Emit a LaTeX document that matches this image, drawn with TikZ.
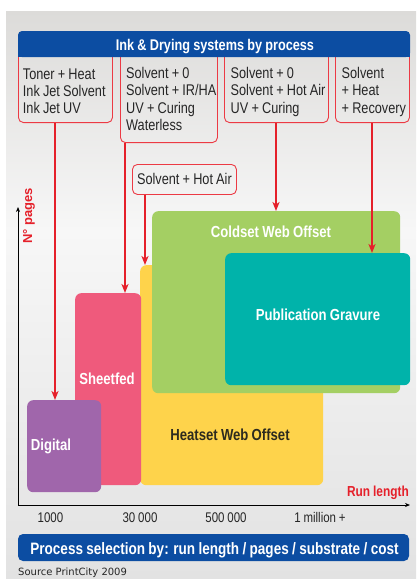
\documentclass[tikz,border=0pt]{standalone}
\usepackage{fontspec}
\setmainfont{Liberation Sans}[FakeStretch=0.82, WordSpace=0.9]
\newfontfamily\plainsans{Liberation Sans}
\newfontfamily\srcfont{DejaVu Sans}
\usetikzlibrary{arrows.meta,calc}
% keep the font's own inter-word space inside aligned nodes
\newcommand\natspace{\spaceskip=0pt\xspaceskip=0pt\relax}

\definecolor{hblue}{HTML}{0C4DA2}
\definecolor{lred}{HTML}{E5202A}
\definecolor{boxred}{HTML}{EC3A44}
\definecolor{txtgray}{HTML}{262626}
\definecolor{bgtop}{HTML}{DCDBD9}
\definecolor{bgmid}{HTML}{F7F7F7}
\definecolor{bgbot}{HTML}{E2E2E2}
\definecolor{cdigital}{HTML}{A066AB}
\definecolor{csheet}{HTML}{EF5A7C}
\definecolor{cheat}{HTML}{FED34B}
\definecolor{ccold}{HTML}{A4CF63}
\definecolor{cgrav}{HTML}{00B3AA}
\definecolor{heattext}{HTML}{2D2A1E}

\begin{document}
\begin{tikzpicture}[x=1pt,y=-1pt,
  conn/.style={draw=lred, line width=1.5pt, -{Stealth[length=9pt,width=7pt,inset=2.5pt]}},
  infobox/.style={draw=boxred, line width=0.9pt, rounded corners=5pt, inner sep=0pt},
  region/.style={rounded corners=6pt, inner sep=0pt, anchor=north west},
  reglabel/.style={font=\bfseries\fontsize{16}{18}\selectfont, text=white, anchor=base, inner sep=0pt},
  boxtext/.style={font=\fontsize{15.5}{17.4}\selectfont, text=txtgray, align=left, text width=110pt, inner sep=0pt, anchor=base west},
  tick/.style={font=\fontsize{14}{16}\selectfont, text=txtgray, anchor=base, inner sep=0pt},
  axisline/.style={draw=black, line width=0.7pt, -{Stealth[length=5pt,width=4pt]}}]

\useasboundingbox (0,0) rectangle (416,579);

% background panel
\fill[white] (0,0) rectangle (416,579);
\fill[top color=bgtop, bottom color=bgmid] (6,11) rectangle (416,230.5);
\fill[top color=bgmid, bottom color=bgbot] (6,230) rectangle (416,579);

% ink & drying boxes hanging under the header
\node[infobox, minimum width=94pt, minimum height=78pt, anchor=south west] (box1) at (18,123) {};
\node[infobox, minimum width=97pt, minimum height=98pt, anchor=south west] (box2) at (120,143) {};
\node[infobox, minimum width=104pt, minimum height=78pt, anchor=south west] (box3) at (224,123) {};
\node[infobox, minimum width=74pt, minimum height=78pt, anchor=south west] (box4) at (335,123) {};

% header bar
\fill[hblue, rounded corners=4pt] (18,31) rectangle (410,57);
\fill[hblue] (18,44) rectangle (410,57);
\node[font=\bfseries\fontsize{15.5}{18}\selectfont, text=white, anchor=base, inner sep=0pt] (title) at (215,50.7) {Ink \& Drying systems by process};

\node[boxtext] (t1) at (22.7,79) {\natspace Toner + Heat\\Ink Jet Solvent\\Ink Jet UV};
\node[boxtext] (t2) at (126,78.3) {\natspace Solvent + 0\\Solvent + IR/HA\\UV + Curing\\Waterless};
\node[boxtext] (t3) at (230.5,78.3) {\natspace Solvent + 0\\Solvent + Hot Air\\UV + Curing};
\node[boxtext] (t4) at (341.5,78.3) {\natspace Solvent\\+ Heat\\+ Recovery};

% extra label for heatset
\node[infobox, minimum width=104pt, minimum height=30pt, anchor=north west,
      font=\fontsize{15.5}{17}\selectfont, text=txtgray] (hotair) at (132,164) {Solvent + Hot Air};

% process regions
\node[region, fill=cheat, minimum width=183pt, minimum height=220pt] (heatset) at (140,265) {};
\node[region, fill=csheet, minimum width=66pt, minimum height=192pt] (sheetfed) at (75,293) {};
\node[region, fill=cdigital, minimum width=74pt, minimum height=92pt] (digital) at (27,400) {};
\node[region, fill=ccold, minimum width=248pt, minimum height=182pt] (coldset) at (152,211) {};
\node[region, fill=cgrav, minimum width=185pt, minimum height=132pt] (gravure) at (225,253) {};

\node[reglabel] (ldigital) at (51,450.7) {Digital};
\node[reglabel] (lsheet) at (107,384) {Sheetfed};
\node[reglabel, text=heattext] (lheat) at (230,440) {Heatset Web Offset};
\node[reglabel] (lcold) at (271,237.3) {Coldset Web Offset};
\node[reglabel] (lgrav) at (318,320.7) {Publication Gravure};

% connectors from the drying systems to the processes
\coordinate (cx1) at (55,0);
\coordinate (cx2) at (125,0);
\coordinate (cx3) at (276,0);
\coordinate (cx4) at (372,0);
\coordinate (cx5) at (145,0);
\draw[conn] (box1.south -| cx1) -- (digital.north -| cx1);
\draw[conn] (box2.south -| cx2) -- (sheetfed.north -| cx2);
\draw[conn] (box3.south -| cx3) -- (coldset.north -| cx3);
\draw[conn] (box4.south -| cx4) -- (gravure.north -| cx4);
\draw[conn] (hotair.south -| cx5) -- (heatset.north -| cx5);

% axes
\coordinate (origin) at (18,505);
\coordinate (xend) at (410,505);
\coordinate (yend) at (18,207);
\draw[axisline] (origin) -- (xend);
\draw[axisline] (origin) -- (yend);
\node[font=\plainsans\bfseries\fontsize{13}{15}\selectfont, text=lred, rotate=90, anchor=base, inner sep=0pt] (npages) at (32,216) {N° pages};
\node[font=\bfseries\fontsize{14.5}{17}\selectfont, text=lred, anchor=base east, inner sep=0pt] (runlen) at (409,496.7) {Run length};

\node[tick] (k1) at (50.5,522.7) {1000};
\node[tick] (k2) at (140,522.7) {30 000};
\node[tick] (k3) at (226,522.7) {500 000};
\node[tick] (k4) at (320,522.7) {1 million +};

% footer bar
\fill[hblue, rounded corners=5pt] (18,534) rectangle (409,561);
\node[font=\bfseries\fontsize{16.5}{18}\selectfont, text=white, anchor=base, inner sep=0pt] (footer) at (214.5,554) {Process selection by: run length / pages / substrate / cost};
\node[font=\srcfont\fontsize{10}{12}\selectfont, text=black!85, anchor=base west, inner sep=0pt] (source) at (18,575.7) {Source PrintCity 2009};
\end{tikzpicture}
\end{document}
